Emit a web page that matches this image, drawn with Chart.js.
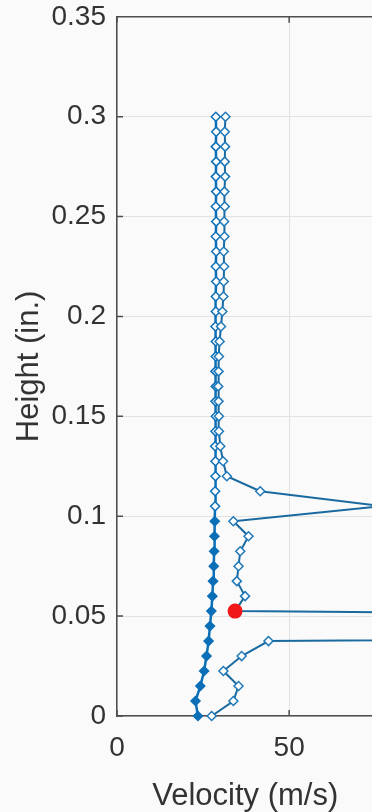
<!DOCTYPE html>
<html lang="en">
<head>
  <meta charset="UTF-8">
  <title>Velocity profile</title>
  <style>
    body {
      margin: 0;
      padding: 0;
      background-color: #fafafa;
      overflow: hidden;
    }

    /* a little larger than the window so the plot runs off the right edge
       and the empty strip above the axes is hidden */
    .chart-box {
      width: 381px;
      height: 823px;
      margin-top: -11px;
      position: relative;
    }
  </style>
  <script src="https://cdn.jsdelivr.net/npm/chart.js"></script>
</head>
<body>
  <div class="chart-box">
    <canvas id="profileCanvas"></canvas>
  </div>

  <script>
    // heights (in.) shared by both profiles
    const heights = [0, 0.0075, 0.015, 0.0225, 0.03, 0.0375, 0.045, 0.0525, 0.06, 0.0675,
      0.075, 0.0825, 0.09, 0.0975, 0.105, 0.1125, 0.12, 0.1275, 0.135, 0.1425,
      0.15, 0.1575, 0.165, 0.1725, 0.18, 0.1875, 0.195, 0.2025, 0.21, 0.2175,
      0.225, 0.2325, 0.24, 0.2475, 0.255, 0.2625, 0.27, 0.2775, 0.285, 0.2925, 0.3];

    // mean profile (m/s)
    const meanVelocity = [23.5, 22.8, 24.2, 25.3, 26.0, 26.6, 27.0, 27.4, 27.7, 27.9,
      28.1, 28.2, 28.3, 28.4, 28.5, 28.5, 28.6, 28.6, 28.5, 28.6,
      28.7, 28.6, 28.7, 28.6, 28.7, 28.7, 28.6, 28.7, 28.7, 28.8,
      28.7, 28.8, 28.7, 28.8, 28.7, 28.8, 28.7, 28.8, 28.7, 28.8, 28.7];

    // instantaneous profile (m/s), with outliers
    const instVelocity = [27.5, 33.8, 35.3, 30.9, 36.2, 44.0, 600, 34.3, 37.2, 34.8,
      35.3, 35.8, 38.2, 33.8, 77.0, 41.6, 31.9, 30.8, 30.0, 29.6,
      29.6, 29.5, 29.4, 29.5, 29.6, 29.8, 30.2, 30.6, 30.9, 31.0,
      31.1, 31.0, 31.2, 31.1, 31.3, 31.2, 31.4, 31.3, 31.4, 31.3, 31.5];

    // highlighted point
    const markVelocity = [34.3];
    const markHeight = [0.0525];

    const xTicks = [0, 50];
    const yTicks = [0, 0.05, 0.1, 0.15, 0.2, 0.25, 0.3, 0.35];

    const blue = "#0b6fb8";
    const axisColor = "#4d4d4d";
    const textColor = "#333333";
    const fontFamily = "'Liberation Sans', Arial, sans-serif";

    function toPoints(xs, ys) {
      return xs.map((x, i) => ({ x: x, y: ys[i] }));
    }

    // MATLAB-like box: top border and inward tick marks
    const boxPlugin = {
      id: "boxPlugin",
      afterDraw(chart) {
        const ctx = chart.ctx;
        const a = chart.chartArea;
        const xs = chart.scales.x;
        const ys = chart.scales.y;
        ctx.save();
        ctx.strokeStyle = axisColor;
        ctx.lineWidth = 1.5;
        ctx.beginPath();
        ctx.moveTo(a.left, a.top);
        ctx.lineTo(a.right, a.top);
        xTicks.forEach(v => {
          const px = xs.getPixelForValue(v);
          ctx.moveTo(px, a.bottom);
          ctx.lineTo(px, a.bottom - 6);
          ctx.moveTo(px, a.top);
          ctx.lineTo(px, a.top + 6);
        });
        yTicks.forEach(v => {
          const py = ys.getPixelForValue(v);
          ctx.moveTo(a.left, py);
          ctx.lineTo(a.left + 6, py);
        });
        ctx.stroke();
        ctx.restore();
      }
    };

    const ctx = document.getElementById("profileCanvas").getContext("2d");
    new Chart(ctx, {
      type: "line",
      data: {
        datasets: [
          {
            label: "Mean",
            data: toPoints(meanVelocity, heights),
            borderColor: blue,
            borderWidth: 2.5,
            pointStyle: "rectRot",
            pointRadius: 4.5,
            pointBorderWidth: 1.5,
            pointBorderColor: blue,
            pointBackgroundColor: c => (c.raw && c.raw.y < 0.105 ? blue : "#ffffff"),
            tension: 0,
            clip: false,
            order: 2
          },
          {
            label: "Instantaneous",
            data: toPoints(instVelocity, heights),
            borderColor: "#1a6aa0",
            borderWidth: 2,
            pointStyle: "rectRot",
            pointRadius: 4.5,
            pointBorderWidth: 1.5,
            pointBorderColor: "#1f78b8",
            pointBackgroundColor: "#ffffff",
            tension: 0,
            clip: false,
            order: 1
          },
          {
            label: "Point",
            data: toPoints(markVelocity, markHeight),
            showLine: false,
            pointStyle: "circle",
            pointRadius: 7.5,
            pointBorderWidth: 0,
            pointBackgroundColor: "#f01818",
            clip: false,
            order: 0
          }
        ]
      },
      options: {
        responsive: true,
        maintainAspectRatio: false,
        animation: false,
        layout: { padding: { top: 7, right: 0, left: 0, bottom: 0 } },
        plugins: {
          legend: { display: false },
          tooltip: { enabled: false }
        },
        scales: {
          x: {
            type: "linear",
            min: 0,
            max: 74.5,
            afterFit: s => { s.height = 96; },
            afterBuildTicks: s => { s.ticks = xTicks.map(v => ({ value: v })); },
            ticks: {
              padding: 15,
              color: textColor,
              font: { family: fontFamily, size: 28 },
              callback: v => String(v)
            },
            grid: { color: "#e2e2e2", lineWidth: 1, drawTicks: false },
            border: { color: axisColor, width: 1.5 },
            title: {
              display: true,
              text: "Velocity (m/s)",
              color: textColor,
              font: { family: fontFamily, size: 31 },
              padding: { top: 0, bottom: -3 }
            }
          },
          y: {
            type: "linear",
            min: 0,
            max: 0.35,
            afterFit: s => { s.width = 117; },
            afterBuildTicks: s => { s.ticks = yTicks.map(v => ({ value: v })); },
            ticks: {
              padding: 11,
              color: textColor,
              font: { family: fontFamily, size: 28 },
              callback: v => String(v)
            },
            grid: { color: "#e2e2e2", lineWidth: 1, drawTicks: false },
            border: { color: axisColor, width: 1.5 },
            title: {
              display: true,
              text: "Height (in.)",
              color: textColor,
              font: { family: fontFamily, size: 31 },
              padding: { top: 11, bottom: 0 }
            }
          }
        }
      },
      plugins: [boxPlugin]
    });
  </script>
</body>
</html>
